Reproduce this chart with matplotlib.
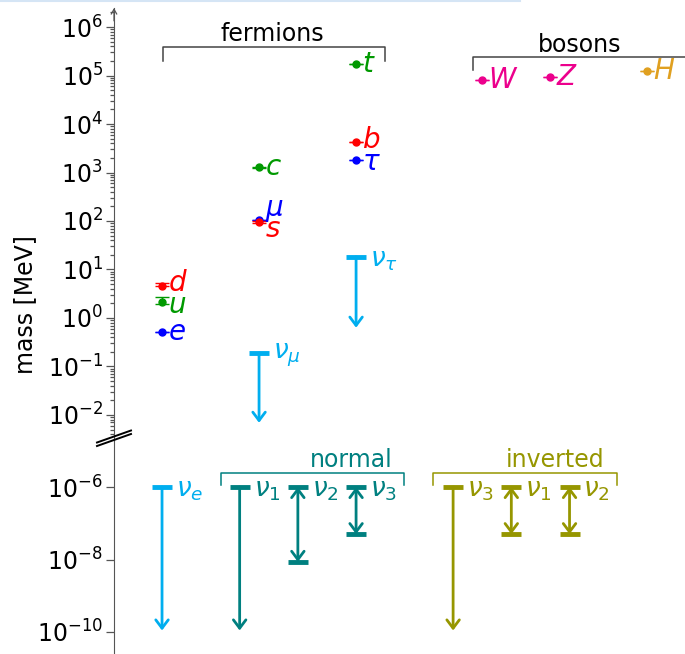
import numpy as np
import matplotlib
matplotlib.use('Agg')
import matplotlib.pyplot as plt
from matplotlib.lines import Line2D
from matplotlib.ticker import LogLocator, FixedLocator, NullLocator, NullFormatter

plt.rcParams['font.family'] = ['DejaVu Sans']
plt.rcParams['mathtext.fontset'] = 'dejavusans'

# Charged fermions and bosons (mass in MeV)
names = ['e', 'u', 'd', r'\mu', 's', 'c', r'\tau', 'b', 't', 'W', 'Z', 'H']
xpos = [0, 0, 0, 1, 1, 1, 2, 2, 2, 3.3, 4, 5]
mass = [0.511, 2.16, 4.67, 105.66, 93.4, 1270, 1776.9, 4180, 172760, 80379, 91188, 125100]
err_lo = [0.0, 0.26, 0.17, 0.0, 3.4, 20, 0.12, 20, 300, 12, 2, 140]
err_hi = [0.0, 0.49, 0.48, 0.0, 8.6, 20, 0.12, 30, 300, 12, 2, 140]
label_dy = [0, -2, 2, 7, -5, 0, -1, 2, 0, 0, 0, 0]
colors = ['#0000ff', '#009900', '#ff0000', '#0000ff', '#ff0000', '#009900',
          '#0000ff', '#ff0000', '#009900', '#ec008c', '#ec008c', '#e0a020']

# Neutrino flavour upper limits (MeV), arrows drawn down to the low values
nu_names = [r'\nu_e', r'\nu_\mu', r'\nu_\tau']
nu_x = [0, 1, 2]
nu_limit = [1e-6, 0.19, 18.2]
nu_low = [1.1e-10, 0.0069, 0.63]
nu_color = '#00aeef'

# Mass eigenstates, normal and inverted ordering
normal_names = [r'\nu_1', r'\nu_2', r'\nu_3']
normal_x = [0.8, 1.4, 2.0]
normal_hi = [1e-6, 1e-6, 1e-6]
normal_lo = [1.1e-10, 8.6e-9, 5.0e-8]
normal_open = [True, False, False]
normal_color = '#008080'

inverted_names = [r'\nu_3', r'\nu_1', r'\nu_2']
inverted_x = [3.0, 3.6, 4.2]
inverted_hi = [1e-6, 1e-6, 1e-6]
inverted_lo = [1.1e-10, 5.0e-8, 5.0e-8]
inverted_open = [True, False, False]
inverted_color = '#969600'

W, H = 685, 654
fig = plt.figure(figsize=(W / 100, H / 100), dpi=100)
ax = fig.add_axes([114 / W, (H - 437) / H, 1 - 114 / W, (437 - 8) / H])
axb = fig.add_axes([114 / W, 0, 1 - 114 / W, (H - 437) / H])

xlim = (-0.495, 5.39)
spine_c = '#555555'
for a in (ax, axb):
    a.set_yscale('log')
    a.set_xlim(*xlim)
    a.patch.set_alpha(0)
    for s in ('top', 'right', 'bottom'):
        a.spines[s].set_visible(False)
    a.spines['left'].set_color(spine_c)
    a.xaxis.set_visible(False)
    a.tick_params(axis='y', which='both', colors=spine_c, labelcolor='black',
                  labelsize=17, pad=2, width=0.9)
    a.tick_params(axis='y', which='major', length=6)
    a.tick_params(axis='y', which='minor', length=3)

ax.set_ylim(10 ** -2.454, 10 ** 6.392)
ax.yaxis.set_major_locator(LogLocator(base=10, numticks=20))
ax.yaxis.set_minor_locator(LogLocator(base=10, subs=np.arange(2, 10), numticks=20))
ax.yaxis.set_minor_formatter(NullFormatter())

axb.set_ylim(10 ** -10.607, 10 ** -4.62)
axb.yaxis.set_major_locator(FixedLocator([1e-10, 1e-8, 1e-6]))
axb.yaxis.set_minor_locator(NullLocator())

# arrow on top of the axis
ax.annotate('', xy=(0, 1.0), xycoords='axes fraction', xytext=(0, 0.97),
            arrowprops=dict(arrowstyle='->,head_length=0.35,head_width=0.2',
                            color=spine_c, lw=0.9, shrinkA=0, shrinkB=0))

# charged particles
for n, x, m, lo, hi, dy, c in zip(names, xpos, mass, err_lo, err_hi, label_dy, colors):
    ax.errorbar([x], [m], yerr=[[lo], [hi]], fmt='o', ms=5, color=c,
                capsize=5, elinewidth=1, capthick=1)
    ax.annotate('$' + n + '$', (x, m), xytext=(4, dy), textcoords='offset points',
                va='center', ha='left', fontsize=20, color=c)


def limit_arrow(a, x, top, low, c, opened, name):
    # bar at the top, arrow down (upper limit) or arrows both ways with bars (range)
    style = '->' if opened else '<->'
    a.annotate('', xy=(x, low), xytext=(x, top),
               arrowprops=dict(arrowstyle=style + ',head_length=0.6,head_width=0.45',
                               color=c, lw=2, shrinkA=0, shrinkB=0))
    a.plot([x], [top], marker='_', ms=14, mew=3.5, color=c)
    if not opened:
        a.plot([x], [low], marker='_', ms=14, mew=3.5, color=c)
    a.annotate('$' + name + '$', (x, top), xytext=(10, -2), textcoords='offset points',
               va='center', ha='left', fontsize=19, color=c)


for n, x, t, l in zip(nu_names, nu_x, nu_limit, nu_low):
    a = axb if t < 1e-4 else ax
    limit_arrow(a, x, t, l, nu_color, True, n)
for n, x, t, l, o in zip(normal_names, normal_x, normal_hi, normal_lo, normal_open):
    limit_arrow(axb, x, t, l, normal_color, o, n)
for n, x, t, l, o in zip(inverted_names, inverted_x, inverted_hi, inverted_lo, inverted_open):
    limit_arrow(axb, x, t, l, inverted_color, o, n)


def bracket(a, x0, x1, ytop, ybot, c, text, tx, ha, clip=False):
    a.plot([x0, x0, x1, x1], [ybot, ytop, ytop, ybot], color=c, lw=1.1, clip_on=clip)
    a.annotate(text, (tx, ytop), xytext=(0, 4), textcoords='offset points',
               ha=ha, va='baseline', fontsize=17, color=c if c != '#444444' else 'black')


bracket(ax, 0.01, 2.30, 10 ** 5.588, 10 ** 5.30, '#444444', 'fermions', 1.14, 'center')
bracket(ax, 3.2, 5.5, 10 ** 5.38, 10 ** 5.11, '#444444', 'bosons', 4.30, 'center', clip=True)
bracket(axb, 0.61, 2.49, 10 ** -5.614, 10 ** -5.945, normal_color, 'normal', 2.38, 'right')
bracket(axb, 2.79, 4.69, 10 ** -5.614, 10 ** -5.945, inverted_color, 'inverted', 4.56, 'right')

# axis break marks
for off in (0, 3.5):
    fig.add_artist(Line2D([97 / W, 131 / W], [(H - 446 + off) / H, (H - 434 + off) / H],
                          color='black', lw=1.4))

fig.text(25 / W, 1 - 305 / H, 'mass [MeV]', rotation=90, ha='center', va='center', fontsize=17)

# thin light strip at the very top of the picture
fig.add_artist(Line2D([0, 520 / W], [1 - 0.8 / H, 1 - 0.8 / H], color='#d5e5f5', lw=1.5))

fig.savefig('out.png', dpi=100)
